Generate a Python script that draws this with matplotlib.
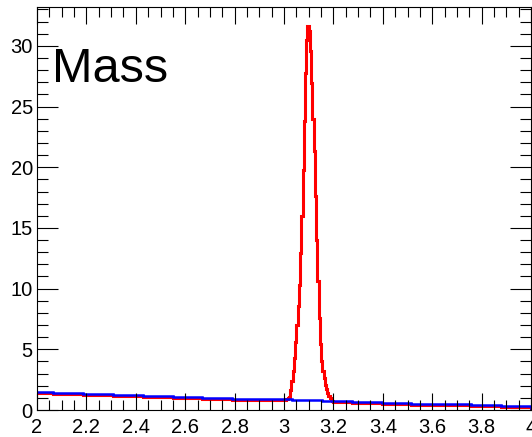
import numpy as np
import matplotlib.pyplot as plt
from matplotlib.ticker import MultipleLocator

plt.rcParams['font.family'] = ['Liberation Sans', 'DejaVu Sans']

# blue: coarse histogram
blue_edges = [1.944, 2.065, 2.186, 2.307, 2.428, 2.549, 2.669, 2.790, 2.911,
              3.032, 3.153, 3.274, 3.395, 3.516, 3.637, 3.758, 3.879, 4.0]
blue_vals = [1.46, 1.37, 1.29, 1.21, 1.13, 1.05, 0.99, 0.93,
             0.88, 0.84, 0.75, 0.66, 0.59, 0.52, 0.47, 0.39, 0.30]

# red: background bins + fine bins (0.005) over the peak
red_low_edges = [1.944, 2.065, 2.186, 2.307, 2.428, 2.549, 2.669, 2.790, 2.911, 3.0]
red_low_vals = [1.38, 1.29, 1.21, 1.13, 1.05, 0.97, 0.91, 0.85, 0.81]
peak_vals = [0.82, 0.84, 0.88, 0.95, 1.10, 1.65, 2.35, 3.20, 4.30, 5.60,
             7.00, 8.60, 10.3, 12.9, 16.0, 19.8, 23.8, 27.8, 30.5, 31.6,
             31.2, 29.6, 26.9, 24.0, 21.3, 17.6, 14.0, 10.6, 7.6, 5.4,
             4.0, 3.2, 2.6, 2.1, 1.7, 1.4, 1.15, 0.95, 0.82, 0.75]
red_high_edges = [3.2, 3.274, 3.395, 3.516, 3.637, 3.758, 3.879, 4.0]
red_high_vals = [0.70, 0.59, 0.52, 0.45, 0.40, 0.32, 0.24]

peak_edges = np.round(np.arange(3.0, 3.2001, 0.005), 4)
red_edges = np.concatenate([red_low_edges[:-1], peak_edges, red_high_edges[1:]])
red_vals = np.concatenate([red_low_vals, peak_vals, red_high_vals])

fig = plt.figure(figsize=(5.32, 4.37), dpi=100)
ax = fig.add_axes([37/532, 1-410/437, 494/532, 403/437])

ax.stairs(red_vals, red_edges, color='#ff0000', lw=2.2)
ax.stairs(blue_vals, blue_edges, color='#0000ff', lw=1.8)

ax.set_xlim(2, 4)
ax.set_ylim(0, 33.2)
ax.xaxis.set_major_locator(MultipleLocator(0.2))
ax.xaxis.set_minor_locator(MultipleLocator(0.05))
ax.yaxis.set_major_locator(MultipleLocator(5))
ax.yaxis.set_minor_locator(MultipleLocator(1))
ax.tick_params(which='both', direction='in', top=True, right=True,
               labelsize=14.5, width=0.8)
ax.tick_params(axis='x', which='major', length=12.5, pad=6)
ax.tick_params(axis='x', which='minor', length=7)
ax.tick_params(axis='y', which='major', length=15, pad=3)
ax.tick_params(axis='y', which='minor', length=8)
ax.set_xticks(np.round(np.arange(2, 4.001, 0.2), 1))
ax.set_xticklabels(['2', '2.2', '2.4', '2.6', '2.8', '3', '3.2', '3.4', '3.6', '3.8', '4'])
for s in ax.spines.values():
    s.set_linewidth(0.8)

ax.text(0.03, 0.90, 'Mass', transform=ax.transAxes, fontsize=35,
        ha='left', va='top')

fig.savefig('out.png', dpi=100)
